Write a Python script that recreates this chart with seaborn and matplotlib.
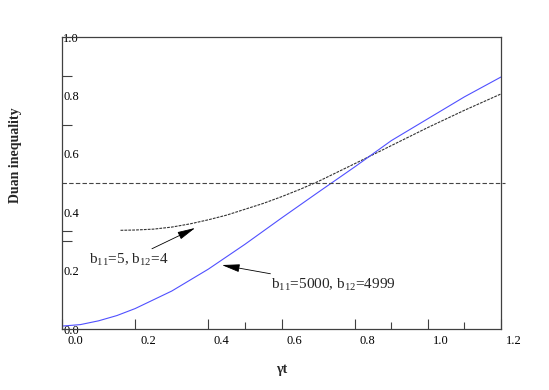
import numpy as np
import pandas as pd
import matplotlib
matplotlib.use("Agg")
import matplotlib.pyplot as plt
from matplotlib.transforms import ScaledTranslation
from matplotlib.ticker import FixedLocator
import seaborn as sns

# values
gt_small = [0.16, 0.2, 0.25, 0.3, 0.35, 0.4, 0.45, 0.5, 0.55, 0.6, 0.65, 0.7, 0.8, 0.9, 1.0, 1.1, 1.2]
duan_small = [0.338, 0.339, 0.342, 0.349, 0.36, 0.374, 0.39, 0.41, 0.43, 0.453, 0.478, 0.505,
              0.566, 0.628, 0.69, 0.749, 0.805]

gt_big = [0.0, 0.05, 0.1, 0.15, 0.2, 0.3, 0.4, 0.5, 0.6, 0.7, 0.8, 0.9, 1.0, 1.1, 1.2]
duan_big = [0.010, 0.015, 0.028, 0.046, 0.07, 0.13, 0.205, 0.29, 0.38, 0.468, 0.555, 0.645,
            0.72, 0.795, 0.863]

x_ticks = [0.0, 0.2, 0.4, 0.6, 0.8, 1.0, 1.2]
y_ticks = [0.0, 0.2, 0.4, 0.6, 0.8, 1.0]
threshold = 0.5

df_small = pd.DataFrame({"gt": gt_small, "duan": duan_small})
df_big = pd.DataFrame({"gt": gt_big, "duan": duan_big})

sns.set_style("ticks")
plt.rcParams["font.family"] = ["Liberation Serif", "DejaVu Serif"]
plt.rcParams["mathtext.fontset"] = "custom"
plt.rcParams["mathtext.rm"] = "Liberation Serif"
plt.rcParams["mathtext.it"] = "Liberation Serif"

fig = plt.figure(figsize=(5.49, 3.9), dpi=100)
ax = fig.add_axes([62 / 549, 61 / 390, 439 / 549, 292 / 390])

sns.lineplot(data=df_small, x="gt", y="duan", ax=ax, color="#333333", lw=0.8,
             linestyle=(0, (2.5, 1)))
sns.lineplot(data=df_big, x="gt", y="duan", ax=ax, color="#5050ff", lw=0.8)
ax.axhline(threshold, xmin=0, xmax=1.01, color="#444444", lw=0.8,
           linestyle=(0, (4, 2)), clip_on=False)

ax.set_xlim(0, 1.2)
ax.set_ylim(0, 1.0)
ax.set_xticks(x_ticks)
ax.set_yticks(y_ticks)
ax.set_xticklabels([f"{v:.1f}" for v in x_ticks])
ax.set_yticklabels([f"{v:.1f}" for v in y_ticks])
ax.xaxis.set_minor_locator(FixedLocator([0.5, 0.9, 1.1]))
ax.yaxis.set_minor_locator(FixedLocator([0.3, 0.336, 0.7, 0.866]))
ax.tick_params(axis="x", which="major", direction="in", length=7, width=0.8,
               labelsize=9, pad=4, colors="#404040", labelcolor="black")
ax.tick_params(axis="x", which="minor", direction="in", length=5, width=0.8,
               colors="#404040")
ax.tick_params(axis="y", which="major", direction="in", length=0,
               labelsize=9, pad=0, labelcolor="black")
ax.tick_params(axis="y", which="minor", direction="in", length=7, width=0.8,
               colors="#404040")

# tick labels sit offset to the right, as in the original
for lab in ax.get_xticklabels():
    lab.set_transform(lab.get_transform() + ScaledTranslation(13 / 100, 0, fig.dpi_scale_trans))
for lab in ax.get_yticklabels():
    lab.set_horizontalalignment("left")
    lab.set_transform(lab.get_transform() + ScaledTranslation(1 / 100, 0, fig.dpi_scale_trans))

for sp in ax.spines.values():
    sp.set_color("#404040")
    sp.set_linewidth(0.9)

ax.set_xlabel("γt", fontsize=10, fontweight="bold", labelpad=12)
ax.set_ylabel("Duan inequality", fontsize=10, fontweight="bold")
ax.yaxis.set_label_coords(-0.091, 0.596)

arrow = dict(arrowstyle="-|>,head_length=1.0,head_width=0.22", color="black",
             lw=0.6, shrinkA=0, shrinkB=0)
ax.annotate("b$_{11}$=5, b$_{12}$=4", xy=(0.364, 0.346), xytext=(0.29, 0.236),
            arrowprops=arrow, fontsize=11, ha="right", va="center")
ax.annotate("b$_{11}$=5000, b$_{12}$=4999", xy=(0.437, 0.219), xytext=(0.572, 0.178),
            arrowprops=arrow, fontsize=11, ha="left", va="top")

fig.savefig("out.png", dpi=100)
